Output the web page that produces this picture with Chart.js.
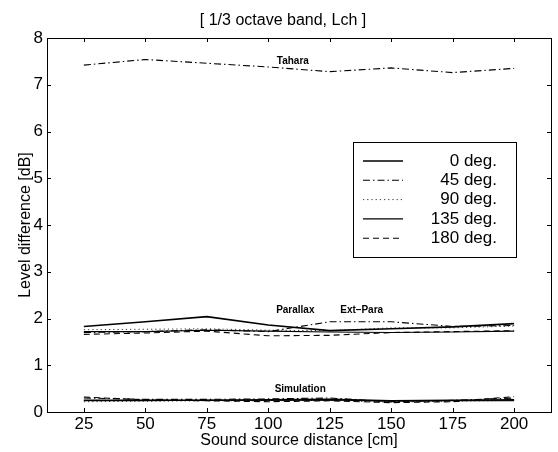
<!DOCTYPE html>
<html>
<head>
<meta charset="utf-8">
<script src="https://cdn.jsdelivr.net/npm/chart.js@4.4.1/dist/chart.umd.min.js"></script>
<style>
  html, body { margin: 0; padding: 0; background: #fff; }
  #wrap { width: 558px; height: 452px; }
</style>
</head>
<body>
<div id="wrap"><canvas id="chart" width="558" height="452"></canvas></div>
<script>
// distances (cm) and level differences (dB)
const DIST = [25, 50, 75, 100, 125, 150, 175, 200];
const X_TICKS = [25, 50, 75, 100, 125, 150, 175, 200];
const Y_TICKS = [0, 1, 2, 3, 4, 5, 6, 7, 8];

const TAHARA_45 = [7.42, 7.54, 7.46, 7.38, 7.28, 7.36, 7.26, 7.35];

const PARA_0   = [1.83, 1.93, 2.04, 1.86, 1.74, 1.78, 1.82, 1.89];
const PARA_45  = [1.70, 1.72, 1.76, 1.72, 1.93, 1.93, 1.83, 1.85];
const PARA_90  = [1.76, 1.77, 1.78, 1.75, 1.74, 1.80, 1.80, 1.84];
const PARA_135 = [1.72, 1.72, 1.75, 1.73, 1.71, 1.70, 1.71, 1.73];
const PARA_180 = [1.66, 1.69, 1.73, 1.63, 1.64, 1.70, 1.72, 1.74];

const SIM_0   = [0.25, 0.25, 0.25, 0.26, 0.27, 0.24, 0.25, 0.26];
const SIM_45  = [0.30, 0.27, 0.27, 0.28, 0.30, 0.22, 0.25, 0.30];
const SIM_90  = [0.22, 0.23, 0.24, 0.24, 0.25, 0.21, 0.23, 0.25];
const SIM_135 = [0.24, 0.24, 0.25, 0.25, 0.26, 0.23, 0.24, 0.24];
const SIM_180 = [0.32, 0.26, 0.24, 0.22, 0.24, 0.20, 0.22, 0.33];

const LEGEND_LABELS = ['0 deg.', '45 deg.', '90 deg.', '135 deg.', '180 deg.'];
const GROUP_LABELS = [
  { text: 'Tahara', x: 110, y: 7.5 },
  { text: 'Parallax', x: 111, y: 2.18 },
  { text: 'Ext\u2013Para', x: 138, y: 2.18 },
  { text: 'Simulation', x: 113, y: 0.48 }
];

const FONT = '"Liberation Sans", Arial, Helvetica, sans-serif';

// line style per angle
const STYLES = [
  { dash: [], width: 1.6 },
  { dash: [7, 3, 1.5, 3], width: 1.1 },
  { dash: [1.2, 3], width: 0.8 },
  { dash: [], width: 1.1 },
  { dash: [6, 4], width: 1.1 }
];

const pts = arr => arr.map((v, i) => ({ x: DIST[i], y: v }));

function ds(data, angle) {
  const s = STYLES[angle];
  return {
    data: pts(data),
    borderColor: '#000',
    borderWidth: s.width,
    borderDash: s.dash,
    pointRadius: 0,
    tension: 0,
    fill: false
  };
}

const datasets = [
  ds(TAHARA_45, 1),
  ds(PARA_180, 4), ds(PARA_135, 3), ds(PARA_90, 2), ds(PARA_45, 1), ds(PARA_0, 0),
  ds(SIM_180, 4), ds(SIM_135, 3), ds(SIM_90, 2), ds(SIM_45, 1), ds(SIM_0, 0)
];

// matlab style box, inward ticks, labels, legend
const boxPlugin = {
  id: 'matlabBox',
  afterDraw(chart) {
    const { ctx, chartArea: a, scales } = chart;
    ctx.save();
    ctx.strokeStyle = '#000';
    ctx.lineWidth = 1;
    ctx.setLineDash([]);
    ctx.strokeRect(a.left + 0.5, a.top + 0.5, a.right - a.left, a.bottom - a.top);
    const tl = 4;
    ctx.beginPath();
    X_TICKS.forEach(v => {
      const px = Math.round(scales.x.getPixelForValue(v)) + 0.5;
      ctx.moveTo(px, a.bottom); ctx.lineTo(px, a.bottom - tl);
      ctx.moveTo(px, a.top); ctx.lineTo(px, a.top + tl);
    });
    Y_TICKS.forEach(v => {
      const py = Math.round(scales.y.getPixelForValue(v)) + 0.5;
      ctx.moveTo(a.left, py); ctx.lineTo(a.left + tl, py);
      ctx.moveTo(a.right, py); ctx.lineTo(a.right - tl, py);
    });
    ctx.stroke();

    // title
    ctx.fillStyle = '#000';
    ctx.font = '16px ' + FONT;
    ctx.textAlign = 'center';
    ctx.textBaseline = 'middle';
    ctx.fillText('[ 1/3 octave band, Lch ]', 283, 21);

    // group labels
    ctx.font = 'bold 10px ' + FONT;
    GROUP_LABELS.forEach(l => {
      ctx.fillText(l.text, scales.x.getPixelForValue(l.x), scales.y.getPixelForValue(l.y));
    });

    // legend
    const lx = 353, ly = 142, lw = 163, lh = 115;
    ctx.fillStyle = '#fff';
    ctx.fillRect(lx, ly, lw, lh);
    ctx.strokeRect(lx + 0.5, ly + 0.5, lw, lh);
    ctx.font = '17px ' + FONT;
    ctx.textAlign = 'right';
    LEGEND_LABELS.forEach((lab, i) => {
      const y = 161 + i * 19.3;
      const s = STYLES[i];
      ctx.beginPath();
      ctx.setLineDash(s.dash);
      ctx.lineWidth = s.width;
      ctx.moveTo(363, y); ctx.lineTo(403, y);
      ctx.stroke();
      ctx.setLineDash([]);
      ctx.fillStyle = '#000';
      ctx.fillText(lab, 497, y);
    });
    ctx.restore();
  }
};

new Chart(document.getElementById('chart'), {
  type: 'line',
  data: { datasets },
  plugins: [boxPlugin],
  options: {
    responsive: false,
    animation: false,
    layout: { padding: { top: 38, right: 7, left: 0, bottom: 0 } },
    plugins: { legend: { display: false }, tooltip: { enabled: false }, title: { display: false } },
    scales: {
      x: {
        type: 'linear',
        min: 10, max: 215,
        afterBuildTicks: s => { s.ticks = X_TICKS.map(v => ({ value: v })); },
        afterFit: s => { s.height = 40; },
        grid: { display: false, drawTicks: false },
        border: { display: false },
        ticks: { color: '#000', font: { family: FONT, size: 17 }, padding: 2, maxRotation: 0 },
        title: { display: true, text: 'Sound source distance [cm]', color: '#000',
                 font: { family: FONT, size: 16 }, padding: { top: 0, bottom: 2 } }
      },
      y: {
        min: 0, max: 8,
        afterBuildTicks: s => { s.ticks = Y_TICKS.map(v => ({ value: v })); },
        afterFit: s => { s.width = 47; },
        grid: { display: false, drawTicks: false },
        border: { display: false },
        ticks: { color: '#000', font: { family: FONT, size: 17 }, padding: 4 },
        title: { display: true, text: 'Level difference [dB]', color: '#000',
                 font: { family: FONT, size: 16 }, padding: { top: 16, bottom: 0 } }
      }
    }
  }
});
</script>
</body>
</html>
